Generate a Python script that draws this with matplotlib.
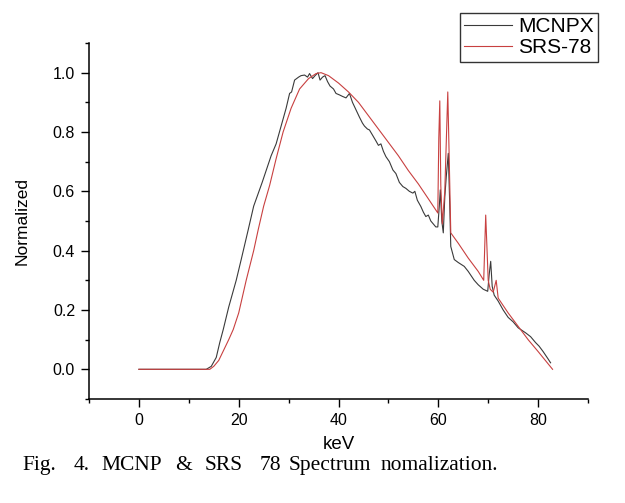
import matplotlib
matplotlib.use('Agg')
import matplotlib.pyplot as plt
from matplotlib.ticker import MultipleLocator

plt.rcParams['font.family'] = ['Liberation Sans', 'DejaVu Sans']

# MCNPX spectrum (keV, normalized)
mcnpx_kev = [0, 13.5, 14.5, 15.5, 16.2, 16.9, 18, 19.5, 20.5, 21.9, 23, 24.7, 25.5, 26.5,
             27.5, 28.5, 29.5, 30.2, 30.6, 31.2, 32, 32.5, 33.2, 33.8, 34.2, 34.8, 35.3,
             35.9, 36.3, 36.8, 37.3, 37.8, 38.3, 39, 39.5, 40.2, 40.8, 41.5, 42.2, 42.8,
             43.5, 44.2, 44.8, 45.2, 45.8, 46.2, 46.8, 47.5, 48, 48.5, 49, 49.5, 50.2,
             50.9, 51.5, 52.2, 52.9, 53.5, 54.2, 54.9, 55.3, 55.8, 56.5, 57, 57.5, 58,
             58.5, 59, 59.5, 59.9, 60.2, 60.4, 60.7, 61.0, 61.3, 61.6, 62.0, 62.3, 62.5,
             63.2, 64, 65.2, 66, 67.2, 68, 69, 69.9, 70.2, 70.5, 70.8, 71.2, 72, 73, 74,
             75, 76, 77.5, 78.5, 79.5, 80.2, 81, 82, 82.5]
mcnpx_val = [0, 0, 0.01, 0.04, 0.09, 0.134, 0.21, 0.30, 0.37, 0.47, 0.55, 0.63, 0.67, 0.72,
             0.76, 0.82, 0.88, 0.93, 0.935, 0.975, 0.985, 0.99, 0.992, 0.985, 0.997, 0.98, 0.99,
             1.0, 0.975, 0.985, 0.99, 0.97, 0.955, 0.945, 0.93, 0.925, 0.92, 0.915, 0.93, 0.9,
             0.875, 0.85, 0.83, 0.82, 0.81, 0.807, 0.79, 0.77, 0.755, 0.76, 0.735, 0.717, 0.70,
             0.672, 0.66, 0.63, 0.616, 0.61, 0.60, 0.594, 0.60, 0.57, 0.549, 0.53, 0.515, 0.52,
             0.50, 0.49, 0.48, 0.48, 0.55, 0.605, 0.50, 0.46, 0.58, 0.65, 0.728, 0.55, 0.414,
             0.37, 0.36, 0.347, 0.33, 0.30, 0.285, 0.27, 0.263, 0.32, 0.364, 0.28, 0.25, 0.23, 0.20, 0.175,
             0.16, 0.14, 0.123, 0.11, 0.09, 0.078, 0.06, 0.035, 0.022]

# SRS-78 spectrum (keV, normalized)
srs_kev = [0, 14.2, 15, 16, 17, 18, 18.9, 20, 21.5, 23, 23.9, 25, 26.2, 27.5, 28.9, 30.5,
           32.2, 34, 35.5, 36.5, 38, 40, 42, 44, 46, 48, 50, 52, 54, 56, 58, 59.9, 60.1,
           60.3, 60.5, 60.8, 61.3, 61.9, 62.2, 62.5, 64, 66, 68, 69.1, 69.5, 70.0, 70.4,
           71.0, 71.6, 72.0, 74, 76, 78, 80, 82.9]
srs_val = [0, 0, 0.01, 0.03, 0.065, 0.10, 0.134, 0.19, 0.30, 0.40, 0.47, 0.55, 0.62, 0.71,
           0.80, 0.88, 0.945, 0.98, 0.997, 1.0, 0.99, 0.965, 0.935, 0.90, 0.855, 0.81, 0.765,
           0.72, 0.67, 0.625, 0.575, 0.527, 0.78, 0.905, 0.62, 0.49, 0.60, 0.935, 0.70, 0.46,
           0.425, 0.375, 0.33, 0.30, 0.52, 0.30, 0.27, 0.26, 0.30, 0.24, 0.19, 0.145, 0.10,
           0.06, 0.0]

# caption words and their left edges (figure pixels)
caption_words = ['Fig.', '4.', 'MCNP', '&', 'SRS', '78', 'Spectrum', 'nomalization.']
caption_x = [22, 74, 101, 175, 205, 260, 289, 381]

fig = plt.figure(figsize=(6.25, 5.03), dpi=100)
ax = fig.add_axes([0.1424, 0.2068, 0.7984, 0.7077])

ax.plot(mcnpx_kev, mcnpx_val, color='#3a3a3a', lw=0.8, label='MCNPX')
ax.plot(srs_kev, srs_val, color='#c84040', lw=0.8, label='SRS-78')

ax.set_xlim(-10, 90)
ax.set_ylim(-0.1, 1.1)
ax.xaxis.set_major_locator(MultipleLocator(20))
ax.xaxis.set_minor_locator(MultipleLocator(10))
ax.yaxis.set_major_locator(MultipleLocator(0.2))
ax.yaxis.set_minor_locator(MultipleLocator(0.1))
ax.yaxis.set_major_formatter(plt.FormatStrFormatter('%.1f'))
for s in ['top', 'right']:
    ax.spines[s].set_visible(False)
for s in ['left', 'bottom']:
    ax.spines[s].set_linewidth(1.1)
ax.tick_params(which='major', direction='out', length=6, width=1, labelsize=11.5, pad=4)
ax.tick_params(which='minor', direction='out', length=3, width=1)

ax.set_xlabel('keV', fontsize=13.5, labelpad=6)
ax.set_ylabel('Normalized', fontsize=12.5, labelpad=17)

leg = ax.legend(loc='upper right', bbox_to_anchor=(1.02, 1.084), fontsize=15,
                frameon=True, fancybox=False, handlelength=2.3, borderpad=0.2,
                labelspacing=0.1, handletextpad=0.3, borderaxespad=0)
leg.get_frame().set_edgecolor('black')
leg.get_frame().set_linewidth(1)

for w, xp in zip(caption_words, caption_x):
    fig.text(xp / 625, 0.066, w, fontsize=15.5, family='Liberation Serif',
             ha='left', va='baseline')

fig.savefig('out.png', dpi=100)
